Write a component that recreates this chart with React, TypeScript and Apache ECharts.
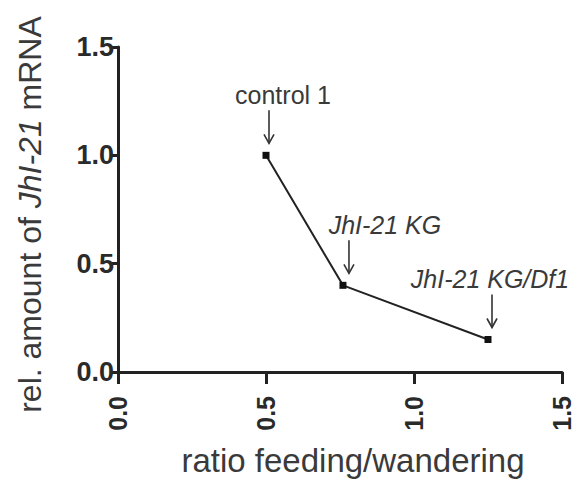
import React, { useEffect, useRef } from "react";
import * as echarts from "echarts";

const ratios = [0.5, 0.76, 1.25];
const mrna = [1.0, 0.4, 0.15];
const pointLabels = ["control 1", "JhI-21 KG", "JhI-21 KG/Df1"];
const italicLabel = [false, true, true];
const xTicks = [0, 0.5, 1.0, 1.5];
const yTicks = [0, 0.5, 1.0, 1.5];

// styling offsets for annotations (pixels)
const textDx = [17, 42, 2];
const arrowDx = [3, 6, 4];

const FONT = "'Liberation Sans', Arial, sans-serif";

export default function App() {
  const ref = useRef<HTMLDivElement>(null);
  useEffect(() => {
    const chart = echarts.init(ref.current!, undefined, { renderer: "svg" });
    const annData = ratios.map((r, i) => [r, mrna[i], i]);
    chart.setOption({
      animation: false,
      backgroundColor: "#fff",
      grid: { left: 118, right: 20, top: 47, bottom: 122, containLabel: false },
      xAxis: {
        type: "value",
        min: xTicks[0],
        max: xTicks[xTicks.length - 1],
        interval: 0.5,
        name: "ratio feeding/wandering",
        nameLocation: "middle",
        nameGap: 72,
        nameTextStyle: { fontFamily: FONT, fontSize: 33, color: "#3a3a3a", padding: [0, 0, 0, 26] },
        axisLine: { show: true, onZero: false, lineStyle: { color: "#222", width: 3 } },
        axisTick: { show: true, length: 12, lineStyle: { color: "#222", width: 3 } },
        axisLabel: {
          rotate: 90,
          margin: 24,
          fontFamily: FONT,
          fontWeight: "bold",
          fontSize: 25,
          color: "#2a2a2a",
          formatter: (v: number) => v.toFixed(1),
        },
        splitLine: { show: false },
      },
      yAxis: {
        type: "value",
        min: yTicks[0],
        max: yTicks[yTicks.length - 1],
        interval: 0.5,
        name: "rel. amount of {i|JhI-21} mRNA",
        nameLocation: "middle",
        nameGap: 72,
        nameTextStyle: {
          fontFamily: FONT,
          fontSize: 32,
          color: "#3a3a3a",
          padding: [0, 10, 0, 0],
          rich: { i: { fontFamily: FONT, fontSize: 32, fontStyle: "italic", color: "#3a3a3a" } },
        },
        axisLine: { show: true, onZero: false, lineStyle: { color: "#222", width: 3 } },
        axisTick: { show: true, length: 8, lineStyle: { color: "#222", width: 3 } },
        axisLabel: {
          margin: 4,
          fontFamily: FONT,
          fontWeight: "bold",
          fontSize: 27,
          color: "#2a2a2a",
          formatter: (v: number) => v.toFixed(1),
        },
        splitLine: { show: false },
      },
      series: [
        {
          type: "line",
          data: ratios.map((r, i) => [r, mrna[i]]),
          symbol: "rect",
          symbolSize: 7,
          itemStyle: { color: "#111" },
          lineStyle: { color: "#222", width: 2 },
          z: 3,
        },
        {
          type: "custom",
          data: annData,
          renderItem: (params: any, api: any) => {
            const i = api.value(2);
            const [px, py] = api.coord([api.value(0), api.value(1)]);
            const ax = px + arrowDx[i];
            const tipY = py - 12;
            const topY = py - 45;
            const label = italicLabel[i] ? `{i|${pointLabels[i]}}` : pointLabels[i];
            return {
              type: "group",
              children: [
                {
                  type: "line",
                  shape: { x1: ax, y1: topY, x2: ax, y2: tipY },
                  style: { stroke: "#333", lineWidth: 1.6 },
                },
                {
                  type: "polyline",
                  shape: { points: [[ax - 5, tipY - 9], [ax, tipY], [ax + 5, tipY - 9]] },
                  style: { stroke: "#333", lineWidth: 1.6, fill: null },
                },
                {
                  type: "text",
                  x: px + textDx[i],
                  y: py - 48,
                  style: {
                    text: label,
                    align: "center",
                    verticalAlign: "bottom",
                    fontFamily: FONT,
                    fontSize: 25,
                    fill: "#3a3a3a",
                    rich: { i: { fontFamily: FONT, fontSize: 25, fontStyle: "italic", fill: "#3a3a3a", color: "#3a3a3a" } },
                  },
                },
              ],
            };
          },
          z: 4,
        },
      ],
    });
    return () => chart.dispose();
  }, []);
  return <div ref={ref} style={{ width: 582, height: 494, position: "absolute", left: 0, top: 0 }} />;
}
